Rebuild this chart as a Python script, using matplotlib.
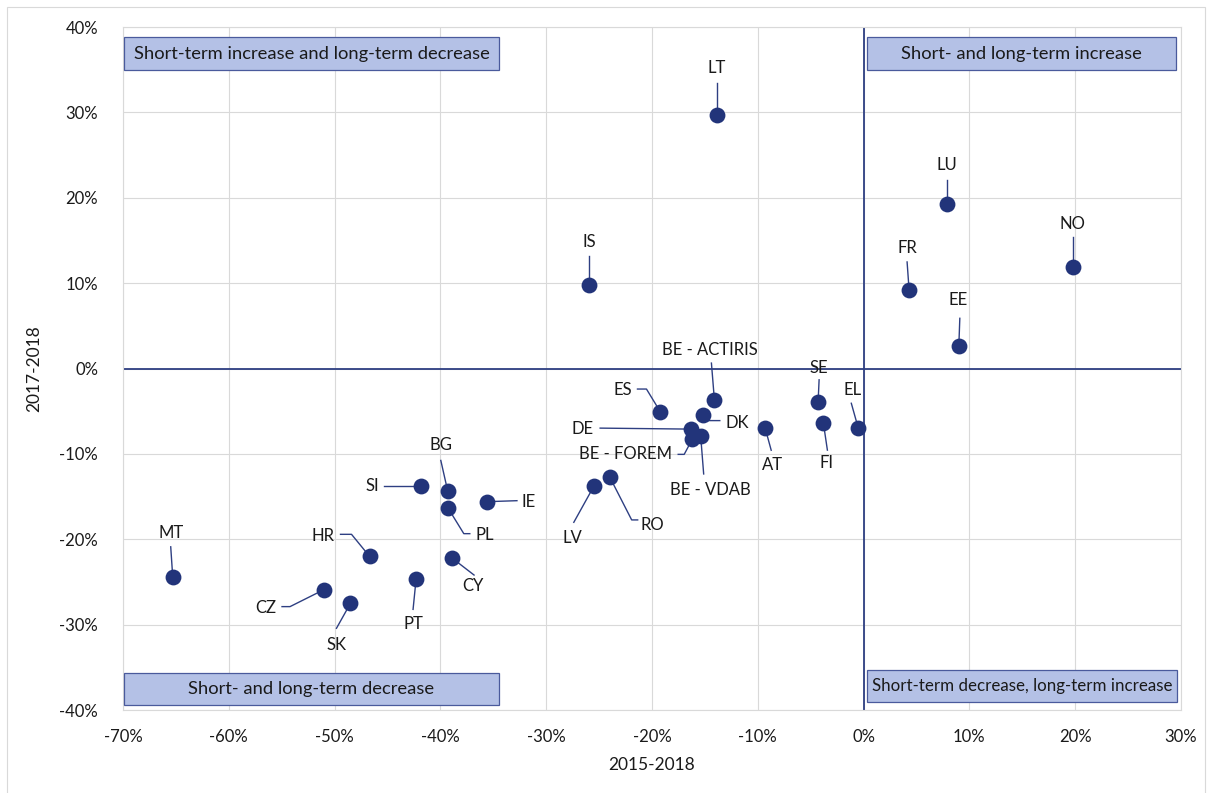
import matplotlib
matplotlib.use("Agg")
import matplotlib.pyplot as plt
from matplotlib.patches import Rectangle
from matplotlib.ticker import FuncFormatter

# change 2015-2018 (x) and 2017-2018 (y), in %
countries = ["LT", "IS", "LU", "NO", "FR", "EE", "SE", "FI", "EL", "AT",
             "BE - ACTIRIS", "DK", "ES", "DE", "BE - FOREM", "BE - VDAB",
             "RO", "LV", "IE", "SI", "BG", "PL", "HR", "CY", "PT", "MT",
             "CZ", "SK"]
long_term = [-13.9, -26.0, 7.9, 19.8, 4.3, 9.0, -4.3, -3.8, -0.5, -9.3,
             -14.1, -15.2, -19.2, -16.3, -16.2, -15.4,
             -24.0, -25.5, -35.6, -41.8, -39.3, -39.3, -46.7, -38.9, -42.3, -65.3,
             -51.0, -48.5]
short_term = [29.7, 9.8, 19.3, 11.9, 9.2, 2.6, -3.9, -6.4, -7.0, -7.0,
              -3.7, -5.4, -5.1, -7.1, -8.3, -7.9,
              -12.7, -13.8, -15.6, -13.8, -14.4, -16.3, -22.0, -22.2, -24.7, -24.4,
              -25.9, -27.5]

x_ticks = list(range(-70, 31, 10))
y_ticks = list(range(-40, 41, 10))

# label position (px offset from dot, y down) and leader line points
label_layout = {
    "LT": ((0, -47), [(0, -32)]),
    "IS": ((1, -43), [(0, -29)]),
    "LU": ((0, -39), [(0, -24)]),
    "NO": ((-1, -43), [(0, -30)]),
    "FR": ((-2, -42), [(-2, -28)]),
    "EE": ((-1, -46), [(1, -28)]),
    "SE": ((1, -34), [(1, -22)]),
    "FI": ((3, 40), [(4, 27)]),
    "EL": ((-6, -38), [(-7, -25)]),
    "AT": ((7, 37), [(6, 22)]),
    "BE - ACTIRIS": ((-5, -50), [(-3, -37)]),
    "DK": ((34, 8), [(17, 6), (5, 6)]),
    "ES": ((-38, -22), [(-23, -23), (-14, -23)]),
    "DE": ((-109, 0), [(-91, -1)]),
    "BE - FOREM": ((-67, 15), [(-14, 15), (-8, 15)]),
    "BE - VDAB": ((10, 54), [(3, 38)]),
    "RO": ((43, 48), [(28, 43), (22, 43)]),
    "LV": ((-21, 52), [(-20, 36)]),
    "IE": ((42, 0), [(30, -1)]),
    "SI": ((-49, 0), [(-37, 0)]),
    "BG": ((-7, -46), [(-7, -31)]),
    "PL": ((37, 27), [(22, 26), (16, 26)]),
    "CY": ((21, 28), [(22, 17)]),
    "HR": ((-47, -20), [(-29, -22), (-18, -22)]),
    "PT": ((-3, 45), [(-3, 30)]),
    "MT": ((-2, -44), [(-2, -30)]),
    "CZ": ((-58, 18), [(-42, 17), (-34, 17)]),
    "SK": ((-14, 42), [(-14, 25)]),
}

quadrant_boxes = [
    ("Short-term increase and long-term decrease", 124, 37, 499, 70, 13.2),
    ("Short- and long-term increase", 867, 37, 1176, 70, 13.2),
    ("Short- and long-term decrease", 124, 673, 499, 705, 13.2),
    ("Short-term decrease, long-term increase", 867, 670, 1177, 702, 12.2),
]

navy = "#22347a"
line_col = "#2e3f82"
plt.rcParams["font.family"] = ["Lato", "DejaVu Sans"]

W, H = 1212, 793
fig = plt.figure(figsize=(W / 100, H / 100), dpi=100)
ax_l, ax_t, ax_r, ax_b = 123, 27, 1181, 710
ax = fig.add_axes([ax_l / W, 1 - ax_b / H, (ax_r - ax_l) / W, (ax_b - ax_t) / H])

ax.set_xlim(-70, 30)
ax.set_ylim(-40, 40)
ax.set_xticks(x_ticks)
ax.set_yticks(y_ticks)
pct = FuncFormatter(lambda v, p: f"{v:.0f}%")
ax.xaxis.set_major_formatter(pct)
ax.yaxis.set_major_formatter(pct)
ax.tick_params(length=0, labelsize=12, labelcolor="#1a1a1a")
ax.tick_params(axis="y", pad=18)
ax.tick_params(axis="x", pad=14)
ax.grid(color="#d9d9d9", linewidth=0.8)
ax.set_axisbelow(True)
for s in ax.spines.values():
    s.set_color("#d9d9d9")
    s.set_linewidth(0.8)

ax.axhline(0, color=line_col, linewidth=1.3, zorder=2)
ax.axvline(0, color=line_col, linewidth=1.3, zorder=2)

ax.set_xlabel("2015-2018", fontsize=12.5, color="#1a1a1a", labelpad=8)
ax.set_ylabel("2017-2018", fontsize=12.5, color="#1a1a1a", labelpad=12)

ax.scatter(long_term, short_term, s=130, color=navy, zorder=4, linewidths=0)

to_data = ax.transData.inverted()
for name, xv, yv in zip(countries, long_term, short_term):
    (tdx, tdy), path = label_layout[name]
    px, py = ax.transData.transform((xv, yv))
    pts = [(px + dx, py - dy) for dx, dy in path] + [(px, py)]
    dpts = to_data.transform(pts)
    ax.plot(dpts[:, 0], dpts[:, 1], color=line_col, linewidth=1.0, zorder=3)
    ax.annotate(name, (xv, yv), xytext=(tdx, -tdy), textcoords="offset pixels",
                ha="center", va="center", fontsize=12, color="#1a1a1a", zorder=5)

# quadrant captions
for text, x0, y0, x1, y1, fs in quadrant_boxes:
    bx = (x0 - ax_l) / (ax_r - ax_l)
    by = (ax_b - y1) / (ax_b - ax_t)
    bw = (x1 - x0) / (ax_r - ax_l)
    bh = (y1 - y0) / (ax_b - ax_t)
    ax.add_patch(Rectangle((bx, by), bw, bh, transform=ax.transAxes,
                           facecolor="#b4c1e6", edgecolor="#4a5a9c",
                           linewidth=0.9, zorder=6))
    ax.text(bx + bw / 2, by + bh / 2, text, transform=ax.transAxes,
            ha="center", va="center", fontsize=fs, color="#1a1a1a", zorder=7)

# outer chart border
fig.add_artist(Rectangle((7 / W, -0.01), (1205 - 7) / W, 1 - 7 / H + 0.01,
                         transform=fig.transFigure, fill=False,
                         edgecolor="#d9d9d9", linewidth=0.8))

fig.savefig("out.png", dpi=100)
